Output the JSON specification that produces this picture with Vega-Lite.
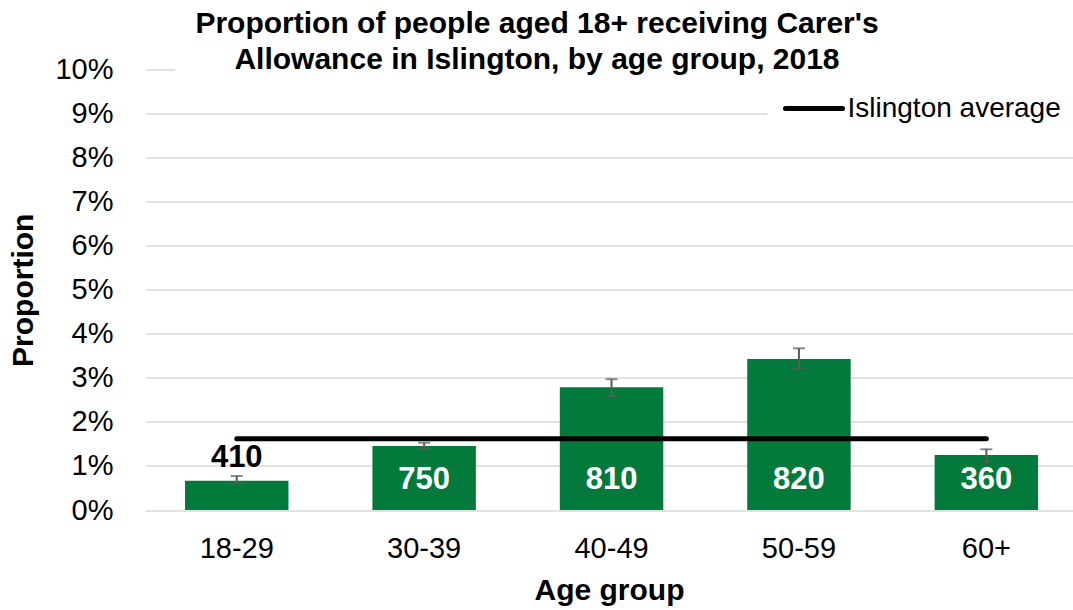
{
  "$schema": "https://vega.github.io/schema/vega-lite/v6.json",
  "width": 928,
  "height": 440.5,
  "autosize": {"type": "none"},
  "padding": {"left": 145, "top": 69.5, "right": 0, "bottom": 100},
  "background": "white",
  "config": {"font": "Liberation Sans", "view": {"stroke": null}},
  "title": {
    "text": ["Proportion of people aged 18+ receiving Carer's", "Allowance in Islington, by age group, 2018"],
    "fontSize": 30,
    "fontWeight": "bold",
    "font": "Liberation Sans",
    "color": "black",
    "lineHeight": 36,
    "anchor": "middle",
    "frame": "group",
    "dx": -72,
    "offset": -43.5,
    "baseline": "alphabetic"
  },
  "data": {
    "values": [
      {"group": "18-29", "proportion": 0.00666, "lower": 0.00606, "upper": 0.00772, "count": 410, "average": 0.0162},
      {"group": "30-39", "proportion": 0.01453, "lower": 0.01378, "upper": 0.01528, "count": 750, "average": 0.0162},
      {"group": "40-49", "proportion": 0.02786, "lower": 0.0259, "upper": 0.0297, "count": 810, "average": 0.0162},
      {"group": "50-59", "proportion": 0.0343, "lower": 0.0322, "upper": 0.0367, "count": 820, "average": 0.0162},
      {"group": "60+", "proportion": 0.01249, "lower": 0.01096, "upper": 0.01378, "count": 360, "average": 0.0162}
    ]
  },
  "encoding": {
    "x": {
      "field": "group",
      "type": "nominal",
      "scale": {"domain": ["18-29", "30-39", "40-49", "50-59", "60+"], "paddingInner": 0.448, "paddingOuter": 0.2, "align": 0.534},
      "axis": {
        "title": "Age group",
        "titleFontSize": 30,
        "titleFontWeight": "bold",
        "titleColor": "black",
        "titlePadding": 12,
        "labelFontSize": 29,
        "labelColor": "black",
        "labelAngle": 0,
        "labelPadding": 24,
        "ticks": false,
        "tickSize": 0,
        "domain": false,
        "grid": false
      }
    }
  },
  "layer": [
    {
      "mark": {"type": "bar", "color": "#037a3b"},
      "encoding": {
        "y": {
          "field": "proportion",
          "type": "quantitative",
          "scale": {"domain": [0, 0.1], "nice": false},
          "axis": {
            "title": "Proportion",
            "titleFontSize": 30,
            "titleFontWeight": "bold",
            "titleColor": "black",
            "titlePadding": 16,
            "format": ".0%",
            "values": [0, 0.01, 0.02, 0.03, 0.04, 0.05, 0.06, 0.07, 0.08, 0.09, 0.1],
            "labelFontSize": 29,
            "labelColor": "black",
            "labelPadding": 32,
            "ticks": false,
            "tickSize": 0,
            "domain": false,
            "grid": true,
            "gridColor": "#d9d9d9",
            "gridWidth": 1.5
          }
        }
      }
    },
    {
      "mark": {"type": "rect", "color": "white"},
      "encoding": {
        "x": {"datum": "18-29", "bandPosition": -0.097},
        "x2": {"datum": "60+", "bandPosition": 1.4},
        "y": {"datum": 0.1025},
        "y2": {"datum": 0.0985}
      }
    },
    {
      "mark": {"type": "rule", "color": "#5a5a5a", "strokeWidth": 2},
      "encoding": {
        "y": {"field": "lower", "type": "quantitative"},
        "y2": {"field": "upper"}
      }
    },
    {
      "mark": {"type": "tick", "color": "#5a5a5a", "size": 12, "thickness": 2},
      "encoding": {"y": {"field": "lower", "type": "quantitative"}}
    },
    {
      "mark": {"type": "tick", "color": "#5a5a5a", "size": 12, "thickness": 2},
      "encoding": {"y": {"field": "upper", "type": "quantitative"}}
    },
    {
      "mark": {"type": "line", "strokeWidth": 5, "strokeCap": "round"},
      "encoding": {
        "y": {"field": "average", "type": "quantitative"},
        "stroke": {
          "datum": "Islington average",
          "scale": {"range": ["black"]},
          "legend": {
            "title": null,
            "orient": "none",
            "legendX": 622.5,
            "legendY": -7.5,
            "symbolType": "stroke",
            "symbolSize": 3250,
            "symbolStrokeWidth": 5,
            "symbolStrokeColor": "black",
            "labelFontSize": 28,
            "labelColor": "black",
            "labelOffset": 2,
            "labelLimit": 400,
            "fillColor": "white",
            "padding": 15,
            "encode": {"symbols": {"update": {"strokeCap": {"value": "round"}}}}
          }
        }
      }
    },
    {
      "transform": [{"filter": "datum.group !== '18-29'"}],
      "mark": {"type": "text", "color": "white", "fontSize": 31, "fontWeight": "bold", "baseline": "alphabetic", "dy": -21},
      "encoding": {
        "y": {"datum": 0},
        "text": {"field": "count", "type": "quantitative"}
      }
    },
    {
      "transform": [{"filter": "datum.group === '18-29'"}],
      "mark": {"type": "text", "color": "black", "fontSize": 31, "fontWeight": "bold", "baseline": "alphabetic", "dy": -9},
      "encoding": {
        "y": {"field": "upper", "type": "quantitative"},
        "text": {"field": "count", "type": "quantitative"}
      }
    }
  ]
}
